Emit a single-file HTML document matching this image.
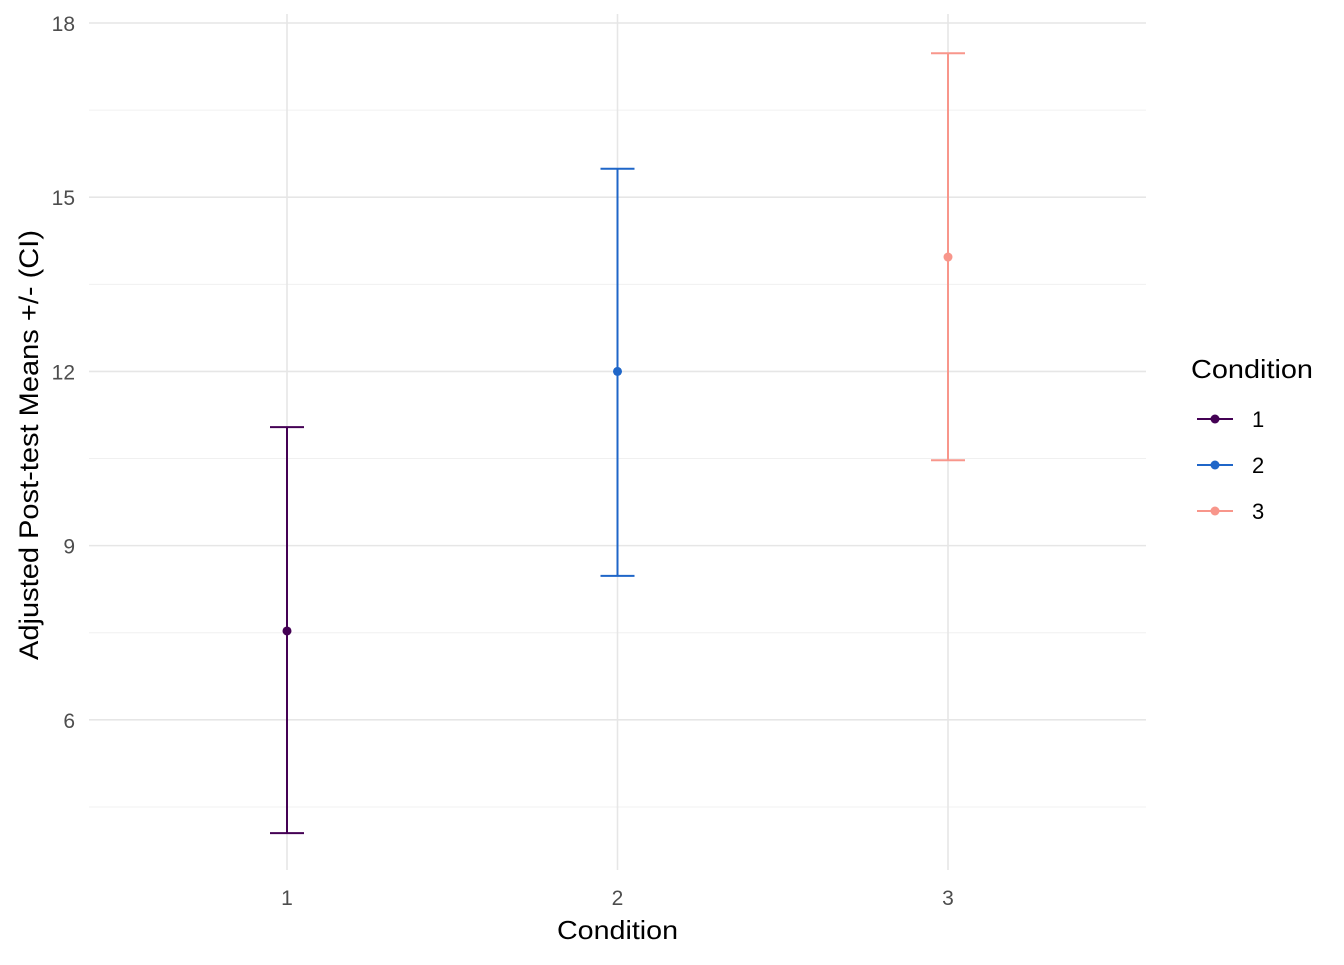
<!DOCTYPE html>
<html><head><meta charset="utf-8"><style>
body{margin:0;background:#fff;}
svg text{font-family:"Liberation Sans",Arial,sans-serif;}
</style></head><body>
<svg id="chart" width="1344" height="960" xmlns="http://www.w3.org/2000/svg">
<g id="grid"></g>
<g id="marks"></g>
<g id="axes"></g>
<text x="557" y="939" textLength="121" lengthAdjust="spacingAndGlyphs" font-size="26" fill="#000">Condition</text>
<text transform="translate(38,660) rotate(-90)" textLength="430" lengthAdjust="spacingAndGlyphs" font-size="27" fill="#000">Adjusted Post-test Means +/- (CI)</text>
<g id="legend">
<text x="1191" y="378" textLength="122" lengthAdjust="spacingAndGlyphs" font-size="26" fill="#000">Condition</text>
</g>
</svg>
<script>
const categories = ["1","2","3"];
const means = [7.53, 12.0, 13.97];
const lower = [4.05, 8.48, 10.47];
const upper = [11.04, 15.49, 17.48];
const yTicks = [6, 9, 12, 15, 18];
const yMinor = [4.5, 7.5, 10.5, 13.5, 16.5];
const colors = ["#440154", "#1f66c8", "#f8968b"];

const NS = "http://www.w3.org/2000/svg";
const px0 = 89, px1 = 1146, pyTop = 14, pyBot = 870;
function xScale(i){ return 287 + i * 330.5; }
function yScale(v){ return 23 + (18 - v) * 58.07; }
function mk(tag, attrs, parent){
  const e = document.createElementNS(NS, tag);
  for (const k in attrs) e.setAttribute(k, attrs[k]);
  parent.appendChild(e); return e;
}
const grid = document.getElementById("grid");
const marks = document.getElementById("marks");
const axes = document.getElementById("axes");
const legend = document.getElementById("legend");

yMinor.forEach(v => {
  const l = mk("line", {x1:px0, x2:px1, y1:yScale(v), y2:yScale(v), stroke:"#f0f0f0", "stroke-width":1}, grid);
  
  
});
yTicks.forEach(v => {
  const l = mk("line", {x1:px0, x2:px1, y1:yScale(v), y2:yScale(v), stroke:"#e6e6e6", "stroke-width":1.6}, grid);
  
  
  const t = mk("text", {x:75, y:yScale(v)+8, "text-anchor":"end", "font-size":21, fill:"#4d4d4d"}, axes);
  t.textContent = v;
  
  
});
categories.forEach((c, i) => {
  const x = xScale(i);
  const l = mk("line", {x1:x, x2:x, y1:pyTop, y2:pyBot, stroke:"#e6e6e6", "stroke-width":1.6}, grid);
  
  
  const t = mk("text", {x:x, y:905, "text-anchor":"middle", "font-size":21, fill:"#4d4d4d"}, axes);
  t.textContent = c;
  
  

  const g = mk("g", {}, marks);
  
  
  const col = colors[i];
  mk("line", {x1:x, x2:x, y1:yScale(lower[i]), y2:yScale(upper[i]), stroke:col, "stroke-width":2}, g);
  mk("line", {x1:x-17, x2:x+17, y1:yScale(lower[i]), y2:yScale(lower[i]), stroke:col, "stroke-width":2}, g);
  mk("line", {x1:x-17, x2:x+17, y1:yScale(upper[i]), y2:yScale(upper[i]), stroke:col, "stroke-width":2}, g);
  const p = mk("circle", {cx:x, cy:yScale(means[i]), r:4.5, fill:col}, marks);
  
  

  const ly = 419 + i * 46;
  const lg = mk("g", {}, legend);
  
  
  mk("line", {x1:1197, x2:1233, y1:ly, y2:ly, stroke:col, "stroke-width":2}, lg);
  mk("circle", {cx:1215, cy:ly, r:4.5, fill:col}, lg);
  const lt = mk("text", {x:1252, y:ly+8, "font-size":22, fill:"#000"}, lg);
  lt.textContent = c;
});
</script>
</body></html>
